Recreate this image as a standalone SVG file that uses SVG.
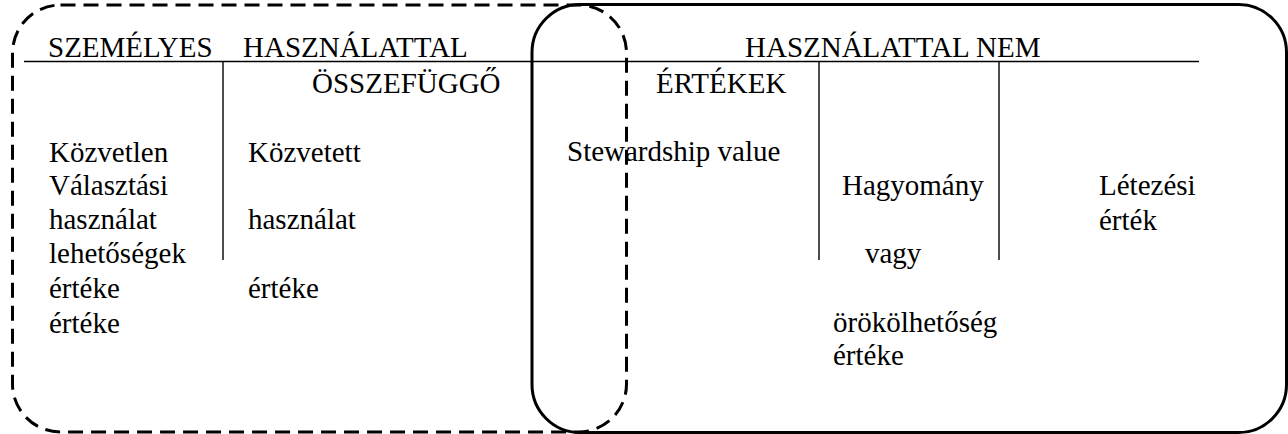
<svg xmlns="http://www.w3.org/2000/svg" width="1288" height="434" viewBox="0 0 1288 434">
<style>
  text { font-size: 29px; fill: #000; }
  .dash { fill: none; stroke: #000; stroke-width: 3; stroke-dasharray: 15 8; }
  .solid { fill: none; stroke: #000; stroke-width: 3; }
  .rule { stroke: #000; stroke-width: 1.4; fill: none; }
</style>
<rect width="1288" height="434" fill="#fff"/>
<g id="use-values-region">
  <rect class="dash" x="12.5" y="5" width="614" height="427" rx="48" ry="48"/>
</g>
<g id="non-use-values-region">
  <rect class="solid" x="532" y="4.5" width="754.5" height="428" rx="48" ry="48"/>
</g>
<g id="connectors">
  <line class="rule" x1="24" y1="61.5" x2="1199" y2="61.5"/>
  <line class="rule" x1="223" y1="61.5" x2="223" y2="260"/>
  <line class="rule" x1="819" y1="61.5" x2="819" y2="260"/>
  <line class="rule" x1="999" y1="61.5" x2="999" y2="260"/>
</g>
<g id="header-use" font-family="Liberation Serif">
  <text x="48" y="57">SZEMÉLYES</text>
  <text x="243" y="57">HASZNÁLATTAL</text>
  <text x="312" y="93">ÖSSZEFÜGGŐ</text>
</g>
<g id="header-nonuse" font-family="Liberation Serif">
  <text x="745" y="57">HASZNÁLATTAL NEM</text>
  <text x="656" y="93">ÉRTÉKEK</text>
</g>
<g id="direct-use" font-family="Liberation Serif">
  <text x="49" y="162">Közvetlen</text>
  <text x="49" y="195">Választási</text>
  <text x="49" y="229">használat</text>
  <text x="49" y="263">lehetőségek</text>
  <text x="49" y="298">értéke</text>
  <text x="49" y="333">értéke</text>
</g>
<g id="indirect-use" font-family="Liberation Serif">
  <text x="248" y="162">Közvetett</text>
  <text x="248" y="229">használat</text>
  <text x="248" y="298">értéke</text>
</g>
<g id="stewardship" font-family="Liberation Serif">
  <text x="567" y="161">Stewardship value</text>
</g>
<g id="bequest" font-family="Liberation Serif">
  <text x="842" y="195">Hagyomány</text>
  <text x="865" y="263">vagy</text>
  <text x="833" y="332">örökölhetőség</text>
  <text x="833" y="365">értéke</text>
</g>
<g id="existence" font-family="Liberation Serif">
  <text x="1099" y="195">Létezési</text>
  <text x="1099" y="230">érték</text>
</g>
</svg>
